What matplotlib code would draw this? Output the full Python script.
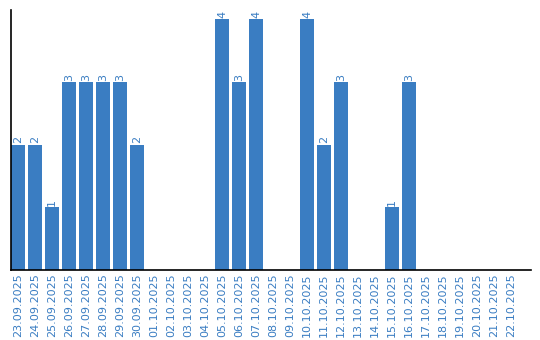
import matplotlib
matplotlib.use("Agg")
import matplotlib.pyplot as plt
import numpy as np

dates = ["23.09.2025", "24.09.2025", "25.09.2025", "26.09.2025", "27.09.2025",
         "28.09.2025", "29.09.2025", "30.09.2025", "01.10.2025", "02.10.2025",
         "03.10.2025", "04.10.2025", "05.10.2025", "06.10.2025", "07.10.2025",
         "08.10.2025", "09.10.2025", "10.10.2025", "11.10.2025", "12.10.2025",
         "13.10.2025", "14.10.2025", "15.10.2025", "16.10.2025", "17.10.2025",
         "18.10.2025", "19.10.2025", "20.10.2025", "21.10.2025", "22.10.2025"]
counts = [2, 2, 1, 3, 3, 3, 3, 2, 0, 0, 0, 0, 4, 3, 4, 0, 0, 4, 2, 3,
          0, 0, 1, 3, 0, 0, 0, 0, 0, 0]

blue = "#3a7dc2"

fig = plt.figure(figsize=(5.4, 3.4), dpi=100)
ax = fig.add_axes([10.5 / 540, 1 - 270 / 340, 520 / 540, 260 / 340])

x = np.arange(len(dates))
ax.bar(x, counts, width=0.82, color=blue)

# value labels above non-empty bars
for xi, c in zip(x, counts):
    if c > 0:
        ax.text(xi, c + 0.02, str(c), rotation=90, ha="center", va="bottom",
                color=blue, fontsize=8)

ax.set_xlim(-0.44, 30.15)
ax.set_ylim(0, 4.15)
ax.set_xticks(x)
ax.set_xticklabels(dates, rotation=90, color=blue, fontsize=8)
ax.tick_params(axis="x", length=0, pad=2.5)
ax.set_yticks([])
for s in ["top", "right"]:
    ax.spines[s].set_visible(False)
ax.spines["left"].set_linewidth(1.2)
ax.spines["bottom"].set_linewidth(1.2)

fig.savefig("out.png", dpi=100)
